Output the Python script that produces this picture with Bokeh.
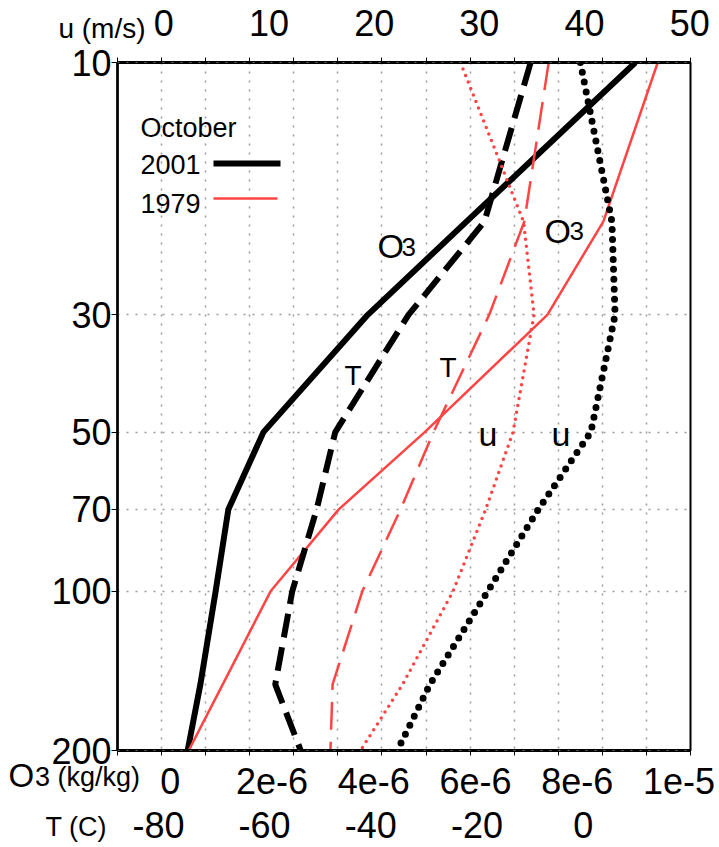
import numpy as np
from bokeh.plotting import figure
from bokeh.models import Range1d, LinearAxis, FixedTicker, Label, Arrow, Span
from bokeh.embed import file_html
from bokeh.resources import INLINE

# ---------------- data ----------------
levels = [10, 20, 30, 50, 70, 100, 150, 200]          # pressure (hPa)
o3_2001 = [9.14e-6, 5.82e-6, 3.88e-6, 1.83e-6, 1.14e-6, 0.89e-6, 0.59e-6, 0.34e-6]
o3_1979 = [9.58e-6, 8.51e-6, 7.41e-6, 5.00e-6, 3.31e-6, 1.97e-6, 1.03e-6, 0.36e-6]
t_2001 = [-9.9, -18.6, -32.9, -46.7, -50.2, -54.8, -58.0, -53.2]
t_1979 = [-6.5, -11.1, -17.7, -28.2, -34.4, -41.6, -47.2, -47.6]
u_2001 = [39.6, 42.6, 42.9, 40.6, 35.6, 30.8, 25.3, 22.2]
u_1979 = [28.2, 34.2, 35.2, 33.2, 30.6, 27.5, 22.7, 18.7]

p_ticks = [10, 30, 50, 70, 100, 200]
o3_ticks = [0, 2e-6, 4e-6, 6e-6, 8e-6, 1e-5]
o3_labels = ["0", "2e-6", "4e-6", "6e-6", "8e-6", "1e-5"]
t_ticks = [-80, -60, -40, -20, 0]
t_labels = ["-80", "-60", "-40", "-20", "0"]
u_ticks = [0, 10, 20, 30, 40, 50]
u_labels = ["0", "10", "20", "30", "40", "50"]

# ---------------- ranges ----------------
O3_RANGE = (-1.039e-6, 1.0224e-5)
T_RANGE = (-87.71, 20.21)
U_RANGE = (-4.40, 50.07)
PAGE_RANGE = (117, 690)      # page-pixel range, used to anchor the axis titles

FONT = "Liberation Sans"
RED = "#ff4444"
NB = "\u00a0"
NDIV = 13
grid_pos = list(np.linspace(O3_RANGE[0], O3_RANGE[1], NDIV + 1))
page_grid = list(np.linspace(PAGE_RANGE[0], PAGE_RANGE[1], NDIV + 1))

p = figure(width=719, height=847,
           x_range=Range1d(*O3_RANGE), y_range=Range1d(200, 10),
           y_axis_type="log", output_backend="svg", toolbar_location=None,
           x_axis_location=None,
           min_border_left=117, min_border_right=29,
           min_border_top=62, min_border_bottom=97)
p.extra_x_ranges = {"T": Range1d(*T_RANGE), "u": Range1d(*U_RANGE),
                    "page": Range1d(*PAGE_RANGE)}
p.outline_line_color = "black"
p.outline_line_width = 2
p.background_fill_color = "white"
p.border_fill_color = "white"

# ---------------- grids ----------------
p.xgrid.ticker = FixedTicker(ticks=grid_pos[1:-1])
p.ygrid.ticker = FixedTicker(ticks=[30, 50, 70, 100])
for g in (p.xgrid, p.ygrid):
    g.grid_line_color = "#9a9a9a"
    g.grid_line_dash = "2 7"
    g.grid_line_width = 1.5

# ---------------- curves ----------------
p.line(o3_2001, levels, line_color="black", line_width=6, line_join="round")
p.line(o3_1979, levels, line_color=RED, line_width=2.5)
p.line(t_2001, levels, x_range_name="T", line_color="black", line_width=6,
       line_dash="24 10")
p.line(t_1979, levels, x_range_name="T", line_color=RED, line_width=2.5,
       line_dash="28 12")
p.line(u_2001, levels, x_range_name="u", line_color="black", line_width=7,
       line_dash="0 10", line_cap="round")
p.line(u_1979, levels, x_range_name="u", line_color=RED, line_width=3.5,
       line_dash="0 7", line_cap="round")

# dotted look over top/bottom borders
for loc in (10, 200):
    p.add_layout(Span(location=loc, dimension="width", line_color="#d0d0d0",
                      line_dash="2 7", line_width=1, level="overlay"))


# ---------------- axes ----------------
def label_axis(range_name, ticks, labels, size, standoff, frame_edge=False):
    ax = LinearAxis(x_range_name=range_name,
                    ticker=FixedTicker(ticks=ticks,
                                       minor_ticks=page_grid if frame_edge else []),
                    major_label_overrides=dict(zip(ticks, labels)),
                    axis_line_color="black" if frame_edge else None,
                    axis_line_width=3,
                    major_tick_line_color=None,
                    minor_tick_line_color="black" if frame_edge else None,
                    major_tick_out=0, major_tick_in=0,
                    minor_tick_out=5 if frame_edge else 0, minor_tick_in=0,
                    major_label_standoff=standoff,
                    major_label_text_font=FONT,
                    major_label_text_font_size=f"{size}px",
                    major_label_text_color="black")
    return ax


# bottom stack (from the frame outwards)
p.add_layout(label_axis("page", [117], ["3 (kg/kg)" + NB * 8], 27, 6, True), "below")
p.add_layout(label_axis("page", [117], ["O" + NB * 21], 33, -38), "below")
p.add_layout(label_axis("default", o3_ticks, o3_labels, 36, -29), "below")
p.add_layout(label_axis("T", t_ticks, t_labels, 36, 15), "below")
p.add_layout(label_axis("page", [117], ["T (C)" + NB * 11], 27, -29), "below")

# top stack (from the frame outwards)
p.add_layout(label_axis("page", [117], ["u (m/s)" + NB * 4], 28, 14, True), "above")
p.add_layout(label_axis("u", u_ticks, u_labels, 36, -26), "above")

# left: pressure
ya = p.yaxis[0]
ya.ticker = FixedTicker(ticks=p_ticks)
ya.major_label_overrides = {v: str(v) for v in p_ticks}
ya.major_tick_out = 6
ya.major_tick_in = 0
ya.minor_tick_line_color = None
ya.axis_line_width = 2.5
ya.major_label_standoff = 0
ya.major_label_text_font = FONT
ya.major_label_text_font_size = "36px"
ya.major_label_text_color = "black"

# ---------------- text annotations inside the frame ----------------
FL, FB = 117, 750   # frame left / bottom on page


def lab(text, px, baseline, size, color="black"):
    mid = baseline - 0.3465 * size          # em-box middle above the baseline
    p.add_layout(Label(x=px - FL, y=FB - mid, x_units="screen", y_units="screen",
                       text=text, text_font=FONT, text_font_size=f"{size}px",
                       text_color=color, text_baseline="middle",
                       text_align="left"))


# legend
lab("October", 140, 137, 27)
lab("2001", 140, 173, 27)
lab("1979", 140, 212, 27)
p.add_layout(Arrow(x_start=213 - FL, y_start=FB - 163, x_end=280 - FL, y_end=FB - 163,
                   start_units="screen", end_units="screen", end=None,
                   line_color="black", line_width=6))
p.add_layout(Arrow(x_start=213 - FL, y_start=FB - 198, x_end=277 - FL, y_end=FB - 198,
                   start_units="screen", end_units="screen", end=None,
                   line_color=RED, line_width=2.5))

# curve labels
lab("O", 377, 257, 34)
lab("3", 401, 256, 26)
lab("O", 544, 242, 34)
lab("3", 569, 240, 26)
lab("T", 344, 385, 28)
lab("T", 439, 377, 28)
lab("u", 478, 445, 34)
lab("u", 551, 445, 34)

open("out.html", "w").write(file_html(p, INLINE))
